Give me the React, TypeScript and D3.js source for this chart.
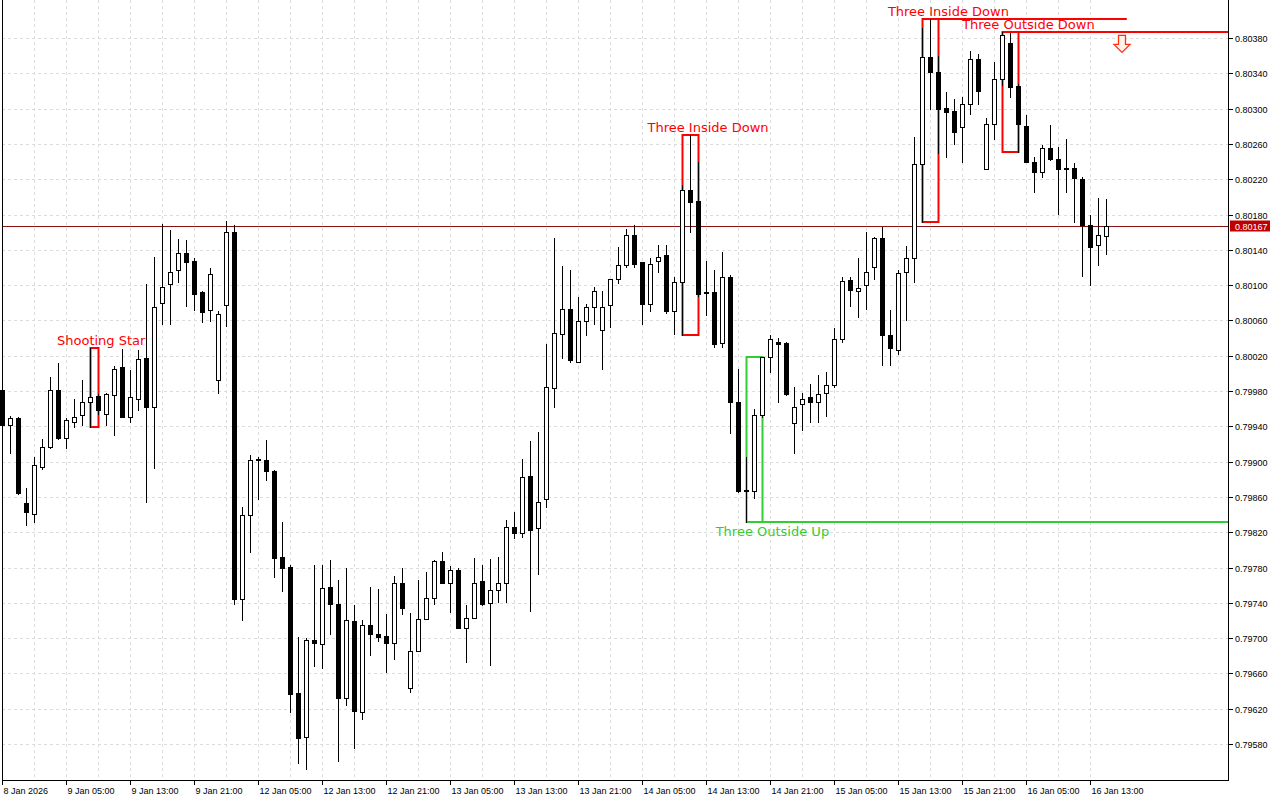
import React from "react";
import * as d3 from "d3";

const opens = [0.79981,0.79942,0.79949,0.79853,0.79841,0.79894,0.79916,0.79981,0.79927,0.79945,0.79953,0.79968,0.79974,0.79954,0.79975,0.80007,0.79950,0.79971,0.80017,0.79962,0.80080,0.80101,0.80117,0.80136,0.80127,0.80092,0.80072,0.79993,0.80077,0.80160,0.79744,0.79839,0.79902,0.79902,0.79889,0.79792,0.79781,0.79638,0.79588,0.79698,0.79693,0.79758,0.79739,0.79632,0.79719,0.79616,0.79715,0.79705,0.79702,0.79695,0.79762,0.79644,0.79685,0.79722,0.79745,0.79787,0.79763,0.79777,0.79712,0.79723,0.79765,0.79740,0.79755,0.79763,0.79826,0.79819,0.79884,0.79825,0.79858,0.79983,0.80045,0.80073,0.80013,0.80059,0.80075,0.80049,0.80078,0.80107,0.80123,0.80157,0.80126,0.80079,0.80127,0.80134,0.80071,0.80103,0.80208,0.80195,0.80092,0.80092,0.80034,0.80109,0.79967,0.79868,0.79867,0.79953,0.80018,0.80036,0.80034,0.79944,0.79965,0.79973,0.79968,0.79978,0.79987,0.80039,0.80106,0.80093,0.80100,0.80120,0.80153,0.80043,0.80026,0.80115,0.80131,0.80237,0.80358,0.80341,0.80301,0.80297,0.80279,0.80305,0.80356,0.80231,0.80283,0.80333,0.80374,0.80326,0.80280,0.80240,0.80228,0.80255,0.80243,0.80231,0.80233,0.80220,0.80168,0.80145,0.80156];
const highs = [0.79986,0.79952,0.79950,0.79870,0.79905,0.79926,0.79996,0.80012,0.79949,0.79971,0.79992,0.80029,0.79977,0.79978,0.80008,0.80028,0.80004,0.80026,0.80101,0.80132,0.80169,0.80163,0.80152,0.80151,0.80131,0.80093,0.80119,0.80071,0.80173,0.80168,0.79848,0.79908,0.79905,0.79924,0.79891,0.79832,0.79783,0.79701,0.79700,0.79783,0.79783,0.79788,0.79766,0.79779,0.79737,0.79721,0.79758,0.79756,0.79727,0.79770,0.79779,0.79729,0.79766,0.79775,0.79788,0.79797,0.79782,0.79779,0.79737,0.79791,0.79783,0.79790,0.79792,0.79834,0.79843,0.79903,0.79923,0.79934,0.80033,0.80153,0.80122,0.80117,0.80086,0.80079,0.80098,0.80093,0.80107,0.80143,0.80164,0.80168,0.80126,0.80131,0.80146,0.80145,0.80109,0.80213,0.80270,0.80240,0.80127,0.80117,0.80138,0.80111,0.80005,0.79905,0.79960,0.80018,0.80044,0.80040,0.80036,0.79985,0.79978,0.79988,0.79998,0.80001,0.80051,0.80109,0.80109,0.80131,0.80160,0.80155,0.80166,0.80072,0.80117,0.80144,0.80268,0.80391,0.80401,0.80360,0.80319,0.80311,0.80313,0.80365,0.80362,0.80289,0.80353,0.80387,0.80386,0.80328,0.80293,0.80245,0.80259,0.80281,0.80257,0.80266,0.80238,0.80223,0.80179,0.80199,0.80197];
const lows = [0.79938,0.79910,0.79863,0.79828,0.79832,0.79892,0.79915,0.79926,0.79915,0.79939,0.79941,0.79939,0.79954,0.79942,0.79930,0.79950,0.79945,0.79959,0.79854,0.79893,0.80056,0.80056,0.80103,0.80076,0.80072,0.80058,0.80059,0.79978,0.80054,0.79739,0.79721,0.79798,0.79858,0.79879,0.79769,0.79753,0.79616,0.79558,0.79552,0.79668,0.79666,0.79705,0.79561,0.79624,0.79576,0.79608,0.79681,0.79697,0.79662,0.79676,0.79727,0.79639,0.79685,0.79722,0.79739,0.79762,0.79730,0.79712,0.79673,0.79723,0.79737,0.79669,0.79741,0.79741,0.79813,0.79814,0.79731,0.79773,0.79849,0.79962,0.80017,0.80013,0.80013,0.80044,0.80056,0.80005,0.80052,0.80102,0.80121,0.80120,0.80056,0.80071,0.80115,0.80068,0.80045,0.80043,0.80160,0.80088,0.80066,0.80030,0.80030,0.79932,0.79866,0.79831,0.79859,0.79950,0.80002,0.79968,0.79976,0.79910,0.79936,0.79945,0.79945,0.79952,0.79984,0.80035,0.80076,0.80064,0.80073,0.80107,0.80009,0.80009,0.80022,0.80061,0.80104,0.80172,0.80300,0.80250,0.80245,0.80260,0.80240,0.80294,0.80305,0.80231,0.80266,0.80327,0.80313,0.80251,0.80239,0.80205,0.80222,0.80242,0.80181,0.80205,0.80172,0.80110,0.80100,0.80123,0.80135];
const closes = [0.79942,0.79949,0.79864,0.79843,0.79896,0.79916,0.79981,0.79927,0.79947,0.79951,0.79967,0.79973,0.79959,0.79977,0.80005,0.79951,0.79973,0.80016,0.79962,0.80075,0.80098,0.80115,0.80136,0.80126,0.80090,0.80070,0.80113,0.80067,0.80160,0.79744,0.79839,0.79902,0.79903,0.79889,0.79791,0.79780,0.79637,0.79587,0.79698,0.79694,0.79757,0.79739,0.79632,0.79721,0.79617,0.79715,0.79705,0.79701,0.79694,0.79762,0.79734,0.79685,0.79722,0.79745,0.79787,0.79762,0.79777,0.79712,0.79723,0.79763,0.79739,0.79754,0.79762,0.79826,0.79819,0.79883,0.79823,0.79854,0.79985,0.80046,0.80073,0.80015,0.80059,0.80075,0.80093,0.80075,0.80107,0.80123,0.80157,0.80124,0.80079,0.80124,0.80132,0.80071,0.80103,0.80208,0.80194,0.80090,0.80091,0.80033,0.80109,0.79967,0.79867,0.79867,0.79953,0.80018,0.80039,0.80033,0.79977,0.79962,0.79971,0.79968,0.79977,0.79987,0.80039,0.80105,0.80095,0.80097,0.80115,0.80153,0.80043,0.80029,0.80114,0.80131,0.80237,0.80358,0.80341,0.80300,0.80296,0.80274,0.80305,0.80356,0.80320,0.80283,0.80333,0.80383,0.80325,0.80282,0.80240,0.80228,0.80255,0.80243,0.80231,0.80233,0.80221,0.80168,0.80143,0.80157,0.80167];

const priceTicks = [0.79580,0.79620,0.79660,0.79700,0.79740,0.79780,0.79820,0.79860,0.79900,0.79940,0.79980,0.80020,0.80060,0.80100,0.80140,0.80180,0.80220,0.80260,0.80300,0.80340,0.80380];
const timeTickIndex = [0,8,16,24,32,40,48,56,64,72,80,88,96,104,112,120,128,136];
const timeTickLabels = ["8 Jan 2026","9 Jan 05:00","9 Jan 13:00","9 Jan 21:00","12 Jan 05:00","12 Jan 13:00","12 Jan 21:00","13 Jan 05:00","13 Jan 13:00","13 Jan 21:00","14 Jan 05:00","14 Jan 13:00","14 Jan 21:00","15 Jan 05:00","15 Jan 13:00","15 Jan 21:00","16 Jan 05:00","16 Jan 13:00"];

const patternNames = ["Shooting Star","Three Inside Down","Three Outside Up","Three Inside Down","Three Outside Down"];
const patternStart = [11,85,93,115,125];
const patternEnd = [12,87,95,117,127];
const patternBullish = [false,false,true,false,false];
const patternLabelIndex = [12.4,88.25,96.3,118.3,128.3];
// extension lines: [pattern idx, level ('high'|'low'), end index or null for right edge]
const extLines = [
  { p: 3, level: "high", endIndex: 140.6 },
  { p: 4, level: "high", endIndex: null },
  { p: 2, level: "low", endIndex: null },
];
const bidPrice = 0.80167;
const arrowSignal = { index: 140, price: 0.80383 };

export default function App() {
  const W = 1280, H = 800;
  const plotL = 2, plotR = 1228, plotT = 0, plotB = 780;
  const x = d3.scaleLinear().domain([0, 138]).range([2, 1106]);
  const y = d3.scaleLinear().domain([0.7958, 0.8038]).range([744, 38]);
  const red = "#ff0000", green = "#32cd32";
  const axisFont = "'Liberation Sans', Arial, sans-serif";
  const labelFont = "'DejaVu Sans', Verdana, sans-serif";

  const gridH = priceTicks.map((p, i) => {
    const yy = Math.round(y(p)) + 0.5;
    return <line key={"gh" + i} x1={plotL} x2={plotR} y1={yy} y2={yy} stroke="#dcdcdc" strokeDasharray="3,3" />;
  });
  const gridV = d3.range(0, 140, 4).map((k) => {
    const xx = Math.round(x(k)) + 0.5;
    return <line key={"gv" + k} x1={xx} x2={xx} y1={plotT} y2={plotB} stroke="#dcdcdc" strokeDasharray="3,3" />;
  });

  const boxes = patternNames.map((name, i) => {
    const s = patternStart[i], e = patternEnd[i];
    const hi = d3.max(highs.slice(s, e + 1)) as number;
    const lo = d3.min(lows.slice(s, e + 1)) as number;
    const x0 = Math.round(x(s)) + 0.5, x1 = Math.round(x(e)) + 0.5;
    const y0 = Math.round(y(hi)), y1 = Math.round(y(lo));
    const col = patternBullish[i] ? green : red;
    const lx = x(patternLabelIndex[i]);
    const ly = patternBullish[i] ? y1 + 14 : y0 - 3;
    return (
      <g key={"pb" + i}>
        <rect x={x0} y={y0} width={x1 - x0} height={y1 - y0} fill="none" stroke={col} strokeWidth={2} />
        <text x={lx} y={ly} fill={col} fontFamily={labelFont} fontSize={13} textAnchor="middle">{name}</text>
      </g>
    );
  });

  const ext = extLines.map((l, i) => {
    const s = patternStart[l.p], e = patternEnd[l.p];
    const v = l.level === "high" ? (d3.max(highs.slice(s, e + 1)) as number) : (d3.min(lows.slice(s, e + 1)) as number);
    const yy = Math.round(y(v));
    const col = patternBullish[l.p] ? green : red;
    const xEnd = l.endIndex === null ? plotR : x(l.endIndex);
    return <line key={"ext" + i} x1={Math.round(x(s))} x2={xEnd} y1={yy} y2={yy} stroke={col} strokeWidth={2} />;
  });

  const candles = opens.map((o, k) => {
    const c = closes[k], h = highs[k], l = lows[k];
    const xc = Math.round(x(k));
    const bull = c >= o;
    const yTop = Math.round(y(Math.max(o, c)));
    const yBot = Math.round(y(Math.min(o, c)));
    const yH = Math.round(y(h)), yL = Math.round(y(l));
    return (
      <g key={"c" + k}>
        <line x1={xc + 0.5} x2={xc + 0.5} y1={yH} y2={yL + 1} stroke="#000" strokeWidth={1} />
        <rect x={xc - 2 + 0.5} y={yTop + 0.5} width={4} height={Math.max(0, yBot - yTop)} fill={bull ? "#fff" : "#000"} stroke="#000" strokeWidth={1} />
      </g>
    );
  });

  const bidY = Math.round(y(bidPrice)) + 0.5;
  const ax = x(arrowSignal.index), ay = y(arrowSignal.price);
  const arrowPts = [
    [ax - 3.5, ay], [ax + 3.5, ay], [ax + 3.5, ay + 9], [ax + 8, ay + 9], [ax, ay + 17], [ax - 8, ay + 9], [ax - 3.5, ay + 9],
  ].map((p) => p.join(",")).join(" ");

  return (
    <svg width={W} height={H} style={{ position: "absolute", left: 0, top: 0, background: "#fff" }}>
      <rect x={0} y={0} width={W} height={H} fill="#fff" />
      {gridH}
      {gridV}
      {ext}
      {boxes}
      <line x1={plotL} x2={plotR} y1={bidY} y2={bidY} stroke="#8b1010" strokeWidth={1} />
      {candles}
      <polygon points={arrowPts} fill="#fff3ea" stroke="#ff3010" strokeWidth={1.3} />
      {/* frame */}
      <line x1={plotL + 0.5} x2={plotL + 0.5} y1={plotT} y2={plotB} stroke="#000" />
      <line x1={plotR + 0.5} x2={plotR + 0.5} y1={plotT} y2={plotB + 0.5} stroke="#000" />
      <line x1={plotL} x2={plotR + 1} y1={plotB + 0.5} y2={plotB + 0.5} stroke="#000" />
      {/* price axis */}
      {priceTicks.map((p, i) => {
        const yy = Math.round(y(p)) + 0.5;
        return (
          <g key={"pt" + i}>
            <line x1={plotR} x2={plotR + 5} y1={yy} y2={yy} stroke="#000" />
            <text x={plotR + 7} y={yy + 3.5} fontFamily={axisFont} fontSize={9} fill="#000">{p.toFixed(5)}</text>
          </g>
        );
      })}
      <rect x={plotR + 2} y={bidY - 6} width={40} height={11} fill="#c00000" />
      <text x={plotR + 7} y={bidY + 3.5} fontFamily={axisFont} fontSize={9} fill="#fff">{bidPrice.toFixed(5)}</text>
      {/* time axis */}
      {timeTickIndex.map((k, i) => {
        const xx = Math.round(x(k)) + 0.5;
        return (
          <g key={"tt" + i}>
            <line x1={xx} x2={xx} y1={plotB} y2={plotB + 5} stroke="#000" />
            <text x={xx + 1} y={plotB + 14} fontFamily={axisFont} fontSize={9} fill="#000">{timeTickLabels[i]}</text>
          </g>
        );
      })}
    </svg>
  );
}
